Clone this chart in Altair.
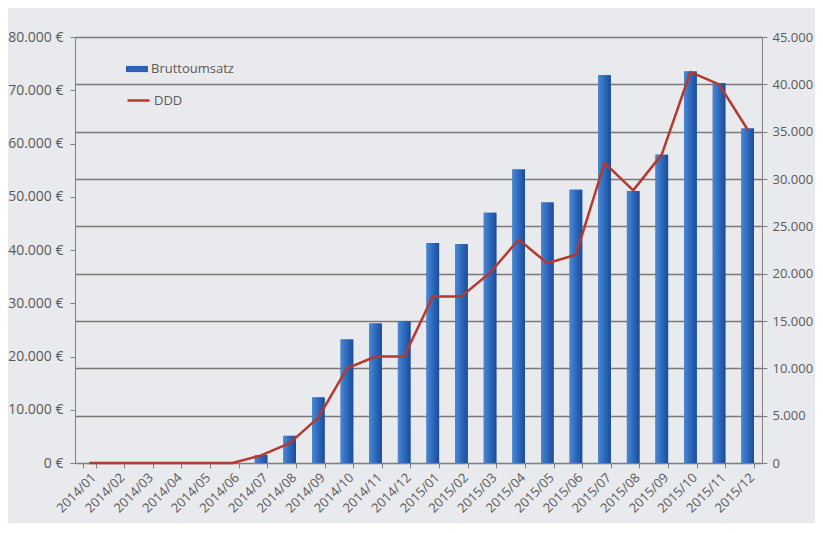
import altair as alt
import pandas as pd

months = ["2014/01", "2014/02", "2014/03", "2014/04", "2014/05", "2014/06",
          "2014/07", "2014/08", "2014/09", "2014/10", "2014/11", "2014/12",
          "2015/01", "2015/02", "2015/03", "2015/04", "2015/05", "2015/06",
          "2015/07", "2015/08", "2015/09", "2015/10", "2015/11", "2015/12"]
umsatz = [0, 0, 0, 0, 0, 0, 1500, 5100, 12300, 23200, 26200, 26600,
          41300, 41100, 47000, 55100, 48900, 51300, 72800, 51100, 57900, 73500, 71300, 62800]
ddd = [0, 0, 0, 0, 0, 0, 800, 2100, 4800, 10000, 11250, 11250,
       17600, 17600, 20100, 23600, 21100, 22000, 31700, 28800, 32600, 41300, 40000, 35200]
left_ticks = list(range(0, 80001, 10000))
right_ticks = list(range(0, 45001, 5000))

df = pd.DataFrame({"Monat": months, "Bruttoumsatz": umsatz, "DDD": ddd,
                   "s1": "Bruttoumsatz", "s2": "DDD"})

FONT = "Open Sans"
TXT = "#5a5a5a"
AX = "#808080"
BG = "#e9eaed"

x = alt.X("Monat:N", sort=months,
          scale=alt.Scale(paddingInner=0.56, paddingOuter=0.28),
          axis=alt.Axis(title=None, labelAngle=315, tickBand="extent",
                        labelFontSize=13, labelColor=TXT, labelFont=FONT,
                        domainColor=AX, tickColor=AX, tickSize=5, grid=False,
                        labelPadding=3))

yleft = alt.Y("Bruttoumsatz:Q",
              scale=alt.Scale(domain=[0, 80000], nice=False),
              axis=alt.Axis(title=None, values=left_ticks, orient="left",
                            labelExpr="replace(format(datum.value, ',d'), ',', '.') + ' €'",
                            labelFontSize=14, labelColor=TXT, labelFont=FONT,
                            domainColor=AX, tickColor=AX, tickSize=5, grid=False,
                            labelPadding=7))

yright = alt.Y("DDD:Q",
               scale=alt.Scale(domain=[0, 45000], nice=False),
               axis=alt.Axis(title=None, values=right_ticks, orient="right",
                             labelExpr="replace(format(datum.value, ',d'), ',', '.')",
                             labelFontSize=13, labelColor=TXT, labelFont=FONT,
                             domainColor=AX, tickColor=AX, tickSize=5,
                             grid=True, gridColor="#7d7877", gridWidth=1.4,
                             labelPadding=5))

grad = alt.Gradient(gradient="linear",
                    stops=[alt.GradientStop(color="#4a88d4", offset=0),
                           alt.GradientStop(color="#2f6cc0", offset=0.45),
                           alt.GradientStop(color="#1c4c96", offset=1)],
                    x1=0, x2=1, y1=0, y2=0)

base = alt.Chart(df)

bars_legend = base.mark_bar().encode(
    fill=alt.Fill("s1:N",
                  scale=alt.Scale(domain=["Bruttoumsatz"], range=["#2a62b4"]),
                  legend=alt.Legend(title=None, orient="none", legendX=51, legendY=21,
                                    symbolType="M-1,-0.28L1,-0.28L1,0.28L-1,0.28Z",
                                    symbolSize=484, symbolStrokeWidth=0,
                                    labelFontSize=13, labelColor=TXT, labelFont=FONT,
                                    labelOffset=3, padding=0))
)
bars = base.mark_bar(color=grad)

bar_layer = alt.layer(bars_legend, bars).encode(x=x, y=yleft)

line = base.mark_line(interpolate="linear", strokeWidth=2.5, strokeJoin="round").encode(
    x=x, y=yright,
    stroke=alt.Stroke("s2:N",
                      scale=alt.Scale(domain=["DDD"], range=["#b5392e"]),
                      legend=alt.Legend(title=None, orient="none", legendX=51, legendY=51,
                                        symbolType="stroke", symbolSize=484,
                                        symbolStrokeWidth=2.5,
                                        labelFontSize=13, labelColor=TXT, labelFont=FONT,
                                        labelOffset=3, padding=0))
)

chart = alt.layer(bar_layer, line).resolve_scale(y="independent").properties(
    width=687, height=426,
    autosize=alt.AutoSizeParams(type="none"),
    padding={"left": 67, "top": 29, "right": 53, "bottom": 60},
    background=BG,
).configure_view(stroke=None, fill=BG)

chart.save("out.html", embed_options={"renderer": "svg", "actions": False})
